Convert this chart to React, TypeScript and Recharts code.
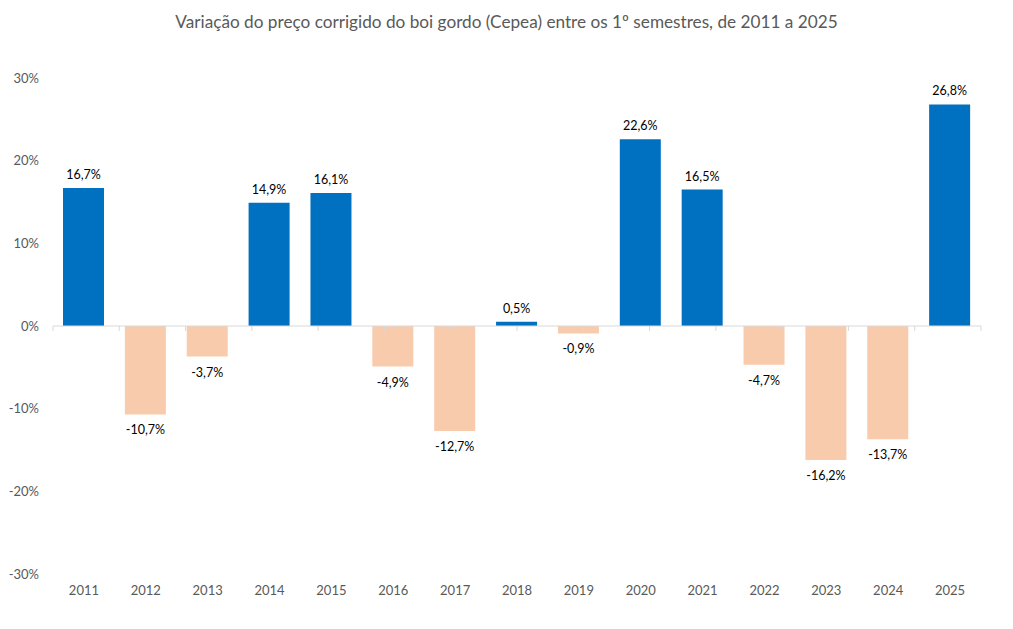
import React from "react";
import { BarChart, Bar, XAxis, YAxis, Cell, LabelList, ReferenceLine } from "recharts";

const years = ["2011","2012","2013","2014","2015","2016","2017","2018","2019","2020","2021","2022","2023","2024","2025"];
const variation = [16.7, -10.7, -3.7, 14.9, 16.1, -4.9, -12.7, 0.5, -0.9, 22.6, 16.5, -4.7, -16.2, -13.7, 26.8];
const yTicks = [-30, -20, -10, 0, 10, 20, 30];
const boundaries = [0,1,2,3,4,5,6,7,8,9,10,11,12,13,14,15];
const title = "Variação do preço corrigido do boi gordo (Cepea) entre os 1º semestres, de 2011 a 2025";

const POS = "#0070C0";
const NEG = "#F8CBAD";
const FONT = "Lato, 'Open Sans', sans-serif";

const data = years.map((y, i) => ({ year: y, value: variation[i] }));

const fmt = (v: number) => v.toFixed(1).replace(".", ",") + "%";

const renderLabel = (props: any) => {
  const { x, y, width, height, value } = props;
  const top = Math.min(y, y + height);
  const bottom = Math.max(y, y + height);
  const cx = x + width / 2;
  const ty = value >= 0 ? top - 9 : bottom + 20;
  return (
    <text x={cx} y={ty} textAnchor="middle" fontSize={12.5} fill="#000" fontFamily={FONT}>
      {fmt(value)}
    </text>
  );
};

export default function App() {
  return (
    <div style={{ position: "absolute", left: 0, top: 0, width: 1013, height: 629, background: "#fff" }}>
      <div
        style={{
          position: "absolute",
          top: 11,
          left: 0,
          width: 1013,
          textAlign: "center",
          fontFamily: FONT,
          fontSize: 17.2,
          color: "#595959",
        }}
      >
        {title}
      </div>
      <BarChart
        width={1013}
        height={629}
        data={data}
        margin={{ top: 78, right: 32, bottom: 25, left: 1 }}
      >
        <XAxis
          dataKey="year"
          axisLine={false}
          tickLine={false}
          tickMargin={6}
          height={30}
          tick={{ fill: "#595959", fontSize: 13, fontFamily: FONT }}
        />
        <XAxis xAxisId="grid" type="number" domain={[0, 15]} hide allowDataOverflow />
        <YAxis
          domain={[-30, 30]}
          ticks={yTicks}
          width={52}
          axisLine={false}
          tickLine={false}
          tickMargin={8}
          tickFormatter={(v: number) => `${v}%`}
          tick={{ fill: "#595959", fontSize: 13, fontFamily: FONT }}
          allowDataOverflow
        />
        <ReferenceLine xAxisId="grid" y={0} stroke="#D9D9D9" strokeWidth={1} />
        {boundaries.map((b) => (
          <ReferenceLine
            key={b}
            xAxisId="grid"
            segment={[{ x: b, y: 0 }, { x: b, y: -0.6 }]}
            stroke="#D9D9D9"
            strokeWidth={1}
          />
        ))}
        <Bar dataKey="value" barSize={41} isAnimationActive={false}>
          {data.map((d, i) => (
            <Cell key={i} fill={d.value >= 0 ? POS : NEG} />
          ))}
          <LabelList dataKey="value" content={renderLabel} />
        </Bar>
      </BarChart>
    </div>
  );
}
